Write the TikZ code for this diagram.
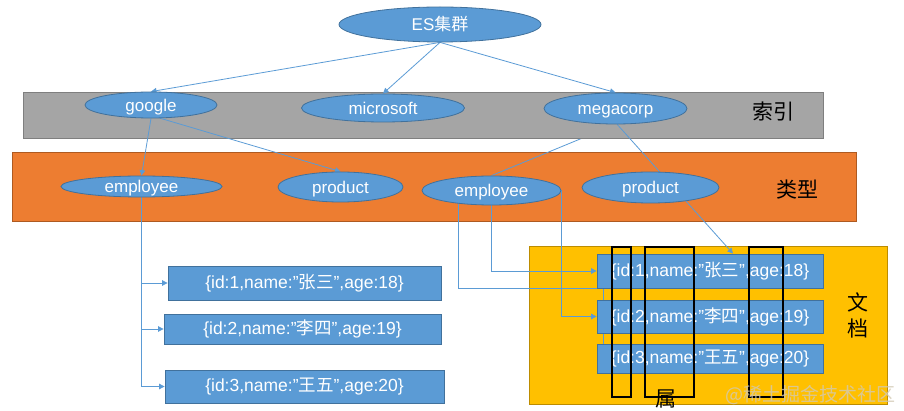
\documentclass[tikz,border=0pt]{standalone}
\usepackage{fontspec}
\setmainfont{Liberation Sans}
\newfontfamily\cjk{Noto Sans CJK SC}
\usetikzlibrary{shapes.geometric,arrows.meta,calc}
\pgfdeclarelayer{bandlow}\pgfdeclarelayer{hidden}\pgfdeclarelayer{bands}\pgfdeclarelayer{edges}
\pgfsetlayers{bandlow,hidden,bands,edges,main}
\definecolor{blu}{HTML}{5B9BD5}
\definecolor{bluedge}{HTML}{41719C}
\definecolor{grayband}{HTML}{A5A5A5}
\definecolor{grayedge}{HTML}{7F7F7F}
\definecolor{orng}{HTML}{ED7D31}
\definecolor{orngedge}{HTML}{AE5A21}
\definecolor{yel}{HTML}{FFC000}
\definecolor{yeledge}{HTML}{BC8C00}
\definecolor{wmark}{HTML}{D2C9B4}
\tikzset{
  ell/.style={ellipse, draw=bluedge, fill=blu, line width=0.8pt, inner sep=0pt, text=white, text height=13pt, text depth=0pt, font=\fontsize{17}{20}\selectfont},
  docbox/.style={rectangle, draw=bluedge, fill=blu, line width=0.8pt, inner sep=0pt, text=white, font=\fontsize{17.5}{20}\selectfont},
  conn/.style={draw=blu, line width=0.8pt},
  arr/.style={conn, -{Triangle[length=5.5pt,width=5.5pt]}},
  lbl/.style={font=\cjk\fontsize{21}{26}\selectfont, text=black, inner sep=0pt, align=center},
  colbox/.style={draw=black, line width=1.4pt},
}
\begin{document}
\begin{tikzpicture}[x=1pt,y=-1pt]
\useasboundingbox (0,0) rectangle (904,411);
% bands
\begin{pgfonlayer}{bandlow}
\draw[fill=orng, draw=orngedge, line width=0.8pt] (12,152) rectangle (856,221);
\draw[fill=yel, draw=yeledge, line width=0.8pt] (529,246) rectangle (887,404);
\end{pgfonlayer}
\begin{pgfonlayer}{bands}
\draw[fill=grayband, draw=grayedge, line width=0.8pt] (23,92) rectangle (823,138);
\end{pgfonlayer}
% nodes
\node[ell, minimum width=202pt, minimum height=35pt] (es) at (440,24.5) {ES{\cjk 集群}};
\node[ell, minimum width=132pt, minimum height=26pt] (google) at (151,105) {google};
\node[ell, minimum width=163pt, minimum height=28pt] (microsoft) at (383,108) {microsoft};
\node[ell, minimum width=143pt, minimum height=31pt] (megacorp) at (615.5,108.5) {megacorp};
\node[ell, minimum width=161pt, minimum height=21pt] (emp1) at (141.5,186.5) {employee};
\node[ell, minimum width=125pt, minimum height=30pt] (prod1) at (340.5,187) {product};
\node[ell, minimum width=139pt, minimum height=29pt] (emp2) at (491.5,190.5) {employee};
\node[ell, minimum width=137pt, minimum height=31pt] (prod2) at (650.5,187.5) {product};
\node[lbl] (suoyin) at (773,112) {索引};
\node[lbl] (leixing) at (797,190) {类型};
\node[lbl] (wendang) at (858,315) {文\\档};
% left docs
\node[docbox, minimum width=273pt, minimum height=34pt] (ld1) at (304.5,283) {\{id:1,name:”{\cjk 张三}”,age:18\}};
\node[docbox, minimum width=277pt, minimum height=30pt] (ld2) at (302.5,329) {\{id:2,name:”{\cjk 李四}”,age:19\}};
\node[docbox, minimum width=279pt, minimum height=33pt] (ld3) at (304.5,386.5) {\{id:3,name:”{\cjk 王五}”,age:20\}};
% right docs
\node[docbox, minimum width=226pt, minimum height=34pt] (rd1) at (710,271) {\{id:1,name:”{\cjk 张三}”,age:18\}};
\node[docbox, minimum width=226pt, minimum height=33pt] (rd2) at (710,316.5) {\{id:2,name:”{\cjk 李四}”,age:19\}};
\node[docbox, minimum width=226pt, minimum height=29pt] (rd3) at (710,358.5) {\{id:3,name:”{\cjk 王五}”,age:20\}};
% field boxes
\draw[colbox] (612,247) rectangle (631,397);
\draw[colbox] (645,247) rectangle (694,397);
\draw[colbox] (749,247) rectangle (783,397);
\node[lbl] (shu) at (666,399) {属};
\node[font=\cjk\fontsize{19}{22}\selectfont, text=wmark, opacity=0.8, anchor=east, inner sep=0pt] (wm) at (896,395) {@稀土掘金技术社区};
% connectors
\begin{pgfonlayer}{hidden}
\draw[conn] (megacorp.south) -- (emp2.north);
\end{pgfonlayer}
\begin{pgfonlayer}{edges}
\draw[arr] (es.south) -- (google.north);
\draw[arr] (es.south) -- (microsoft.north);
\draw[arr] (es.south) -- (megacorp.north);
\draw[arr] (google.south) -- (emp1.north);
\draw[arr] (google.-55) -- (prod1.north);
\draw[arr] (megacorp.-84) -- ($(rd1.north)+(23,0)$);
\draw[arr] (emp1.south) |- (ld1.west);
\draw[arr] (emp1.south) |- (ld2.west);
\draw[arr] (emp1.south) |- (ld3.west);
\draw[arr] (emp2.south) |- (rd1.west);
\draw[arr] (emp2.east) |- (rd2.west);
\coordinate (turn) at (603,288);
\draw[conn] (emp2.202) |- (turn) -- (turn |- rd3.north);
\end{pgfonlayer}
\end{tikzpicture}
\end{document}
